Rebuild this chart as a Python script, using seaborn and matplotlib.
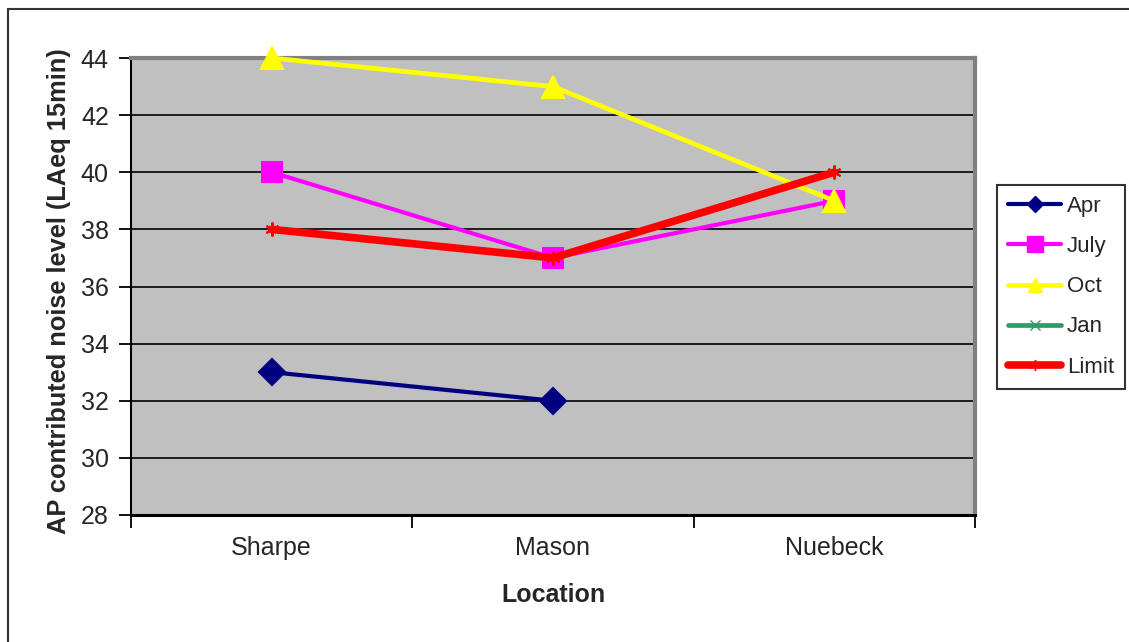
import numpy as np
import pandas as pd
import matplotlib
matplotlib.use("Agg")
import matplotlib.pyplot as plt
from matplotlib.lines import Line2D
import seaborn as sns

# Measured noise levels per location (NaN = no reading)
locations = ["Sharpe", "Mason", "Nuebeck"]
apr = [33, 32, np.nan]
july = [40, 37, 39]
oct_ = [44, 43, 39]
jan = [np.nan, np.nan, np.nan]
limit = [38, 37, 40]

series_names = ["Apr", "July", "Oct", "Jan", "Limit"]
series_values = [apr, july, oct_, jan, limit]
y_ticks = [28, 30, 32, 34, 36, 38, 40, 42, 44]

styles = {
    "Apr":   dict(color="#000080", marker="D", ms=13, lw=3.0, leg_ms=8),
    "July":  dict(color="#FF00FF", marker="s", ms=14.5, lw=3.0, leg_ms=11),
    "Oct":   dict(color="#FFFF00", marker="^", ms=16, lw=3.4, leg_ms=10),
    "Jan":   dict(color="#339966", marker="x", ms=8, lw=3.4, leg_ms=7),
    "Limit": dict(color="#FF0000", marker=(6, 2, 0), ms=10, lw=5.5, leg_ms=8),
}

rows = []
for name, vals in zip(series_names, series_values):
    for i, (loc, v) in enumerate(zip(locations, vals)):
        rows.append({"series": name, "pos": i, "location": loc, "value": v})
df = pd.DataFrame(rows)

sns.set_theme(style="white")
plt.rcParams["font.family"] = ["Liberation Sans", "DejaVu Sans"]

W, H = 1129, 642
fig = plt.figure(figsize=(W / 100, H / 100), dpi=100)
ax = fig.add_axes([131 / W, 1 - 515 / H, (975 - 131) / W, (515 - 58) / H])
ax.set_facecolor("#C0C0C0")

for y in y_ticks[1:-1]:
    ax.axhline(y, color="black", lw=1.2, zorder=1)

for name in series_names:
    st = styles[name]
    sub = df[df["series"] == name].dropna(subset=["value"])
    if sub.empty:
        continue
    sns.lineplot(data=sub, x="pos", y="value", ax=ax, color=st["color"],
                 lw=st["lw"], marker=st["marker"], markersize=st["ms"],
                 markeredgecolor=st["color"], markeredgewidth=1.5,
                 zorder=3, legend=False, estimator=None, sort=False,
                 clip_on=False)

ax.set_xlim(-0.5, len(locations) - 0.5)
ax.set_ylim(y_ticks[0], y_ticks[-1])
ax.set_yticks(y_ticks)
ax.set_yticklabels([str(t) for t in y_ticks], fontsize=18)

# Category boundaries carry the ticks, category centres carry the labels
ax.set_xticks(np.arange(len(locations) + 1) - 0.5)
ax.set_xticklabels([""] * (len(locations) + 1))
ax.set_xticks(np.arange(len(locations)), minor=True)
ax.set_xticklabels(locations, minor=True, fontsize=18)
ax.tick_params(axis="x", which="major", direction="out", length=9, width=1.3,
               color="black", bottom=True)
ax.tick_params(axis="x", which="minor", length=0, pad=15)
ax.tick_params(axis="y", direction="out", length=9, width=1.3, color="black",
               left=True, pad=7)

ax.spines["left"].set_color("black")
ax.spines["left"].set_linewidth(1.5)
ax.spines["bottom"].set_color("black")
ax.spines["bottom"].set_linewidth(2.2)
for s in ("top", "right"):
    ax.spines[s].set_color("#808080")
    ax.spines[s].set_linewidth(3)

ax.set_xlabel("Location", fontsize=18, fontweight="bold")
ax.set_ylabel("AP contributed noise level (LAeq 15min)", fontsize=18.3,
              fontweight="bold")
ax.xaxis.set_label_coords(0.5, -0.148)
ax.yaxis.set_label_coords(-0.071, 0.49)

handles = []
for name in series_names:
    st = styles[name]
    handles.append(Line2D([], [], color=st["color"], lw=st["lw"],
                          marker=st["marker"], markersize=st["leg_ms"],
                          markeredgecolor=st["color"]))
leg = fig.legend(handles, series_names, loc="upper left",
                 bbox_to_anchor=(997 / W, 1 - 185 / H), fontsize=16,
                 frameon=True, fancybox=False, edgecolor="black",
                 handlelength=2.4, handletextpad=0.25, labelspacing=0.86,
                 borderpad=0.5, borderaxespad=0)
leg.get_frame().set_linewidth(1.5)

# Outer chart frame
fig.add_artist(Line2D([7.5 / W, 7.5 / W], [0, 1 - 9 / H], color="#333333",
                      lw=1.5, transform=fig.transFigure))
fig.add_artist(Line2D([7.5 / W, 1], [1 - 9 / H, 1 - 9 / H], color="#333333",
                      lw=1.5, transform=fig.transFigure))

fig.savefig("out.png", dpi=100)
